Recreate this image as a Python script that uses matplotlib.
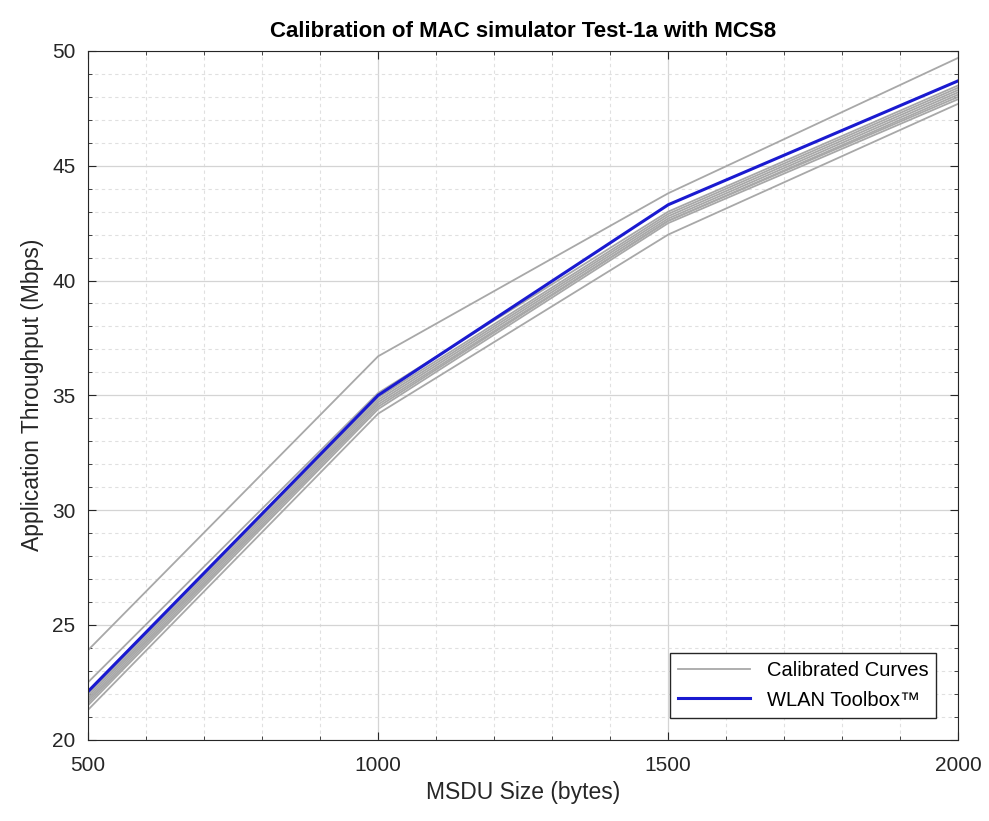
import matplotlib
matplotlib.use("Agg")
import matplotlib.pyplot as plt
from matplotlib.ticker import MultipleLocator

plt.rcParams['font.family'] = ['Liberation Sans', 'DejaVu Sans']

msdu = [500, 1000, 1500, 2000]

# calibrated curves (grey)
calibrated = [
    [23.9, 36.7, 43.8, 49.7],
    [22.5, 35.1, 43.0, 48.5],
    [22.0, 34.9, 42.9, 48.4],
    [21.9, 34.8, 42.8, 48.3],
    [21.8, 34.7, 42.7, 48.2],
    [21.7, 34.6, 42.6, 48.1],
    [21.6, 34.5, 42.6, 48.0],
    [21.5, 34.4, 42.5, 47.9],
    [21.3, 34.2, 42.0, 47.7],
]
# WLAN Toolbox reference
wlan = [22.1, 35.0, 43.3, 48.7]

fig = plt.figure(figsize=(9.89, 8.21), dpi=100)
ax = fig.add_axes([0.089, 0.099, 0.880, 0.839])

for i, c in enumerate(calibrated):
    ax.plot(msdu, c, color='#a8a8a8', lw=1.3,
            label='Calibrated Curves' if i == 0 else None)
ax.plot(msdu, wlan, color='#1a1ad0', lw=2.2, label='WLAN Toolbox\u2122')

ax.set_xlim(500, 2000)
ax.set_ylim(20, 50)
ax.xaxis.set_major_locator(MultipleLocator(500))
ax.xaxis.set_minor_locator(MultipleLocator(100))
ax.yaxis.set_major_locator(MultipleLocator(5))
ax.yaxis.set_minor_locator(MultipleLocator(1))
ax.grid(True, which='major', color='#d4d4d4', lw=0.9)
ax.grid(True, which='minor', color='#e0e0e0', lw=0.8, ls=(0, (3, 3)))
ax.set_axisbelow(True)
ax.tick_params(which='both', direction='in', top=True, right=True,
               labelsize=15, colors='#262626')
ax.tick_params(axis='x', which='major', length=6, pad=12)
ax.tick_params(axis='y', which='major', length=6, pad=9)
ax.tick_params(which='minor', length=3)
for s in ax.spines.values():
    s.set_color('#262626')

ax.set_title('Calibration of MAC simulator Test-1a with MCS8',
             fontsize=16, fontweight='bold', pad=10)
ax.set_xlabel('MSDU Size (bytes)', fontsize=16.5, color='#262626', labelpad=4)
ax.set_ylabel('Application Throughput (Mbps)', fontsize=16.5, color='#262626',
              labelpad=6)

leg = ax.legend(loc='lower right', fontsize=14.5, fancybox=False,
                edgecolor='#262626', framealpha=1, handlelength=3.6,
                borderaxespad=1.1)
leg.get_frame().set_linewidth(1.0)

fig.savefig('out.png', dpi=100)
